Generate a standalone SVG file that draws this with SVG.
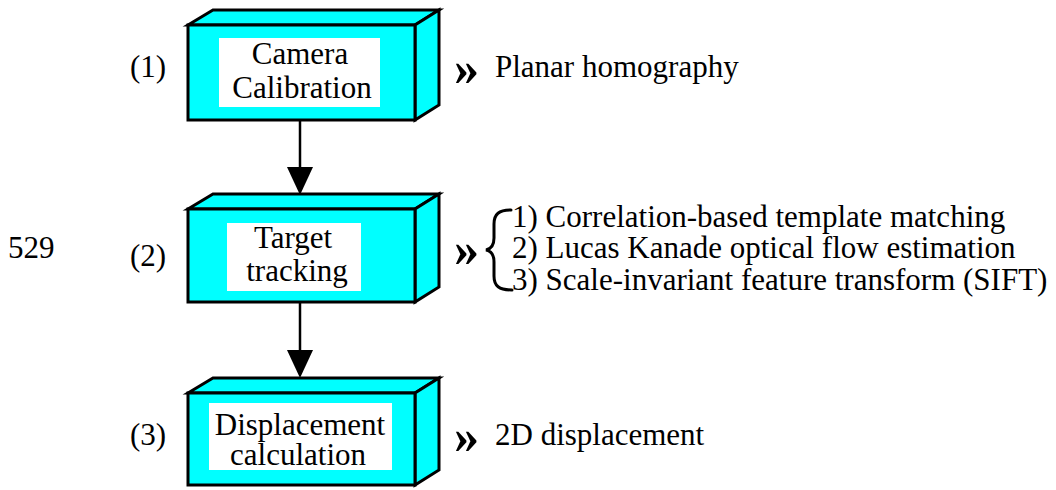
<svg xmlns="http://www.w3.org/2000/svg" width="1056" height="490" viewBox="0 0 1056 490">
  <style>
    .face { fill: #00ffff; stroke: #000; stroke-width: 3; stroke-linejoin: miter; }
    .label-bg { fill: #fff; }
    .t { font-size: 31px; fill: #000; }
    .mid { text-anchor: middle; }
    .chev { font-size: 50px; font-weight: bold; fill: #000; }
    .edge { stroke: #000; stroke-width: 2.5; fill: none; }
    .head { fill: #000; }
  </style>

  <g font-family="Liberation Serif, Times New Roman, serif">
  <!-- page number -->
  <text class="t" x="8" y="258">529</text>

  <!-- step 1 -->
  <g id="node-calibration">
    <polygon class="face" points="188,25 213,10 439,10 415,25"/>
    <polygon class="face" points="415,25 439,10 439,105 415,120"/>
    <rect class="face" x="188" y="25" width="227" height="95"/>
    <rect class="label-bg" x="219" y="38" width="161" height="69"/>
    <text class="t mid" x="300" y="64">Camera</text>
    <text class="t mid" x="302" y="98">Calibration</text>
  </g>

  <!-- step 2 -->
  <g id="node-tracking">
    <polygon class="face" points="188,209 213,194 439,194 415,209"/>
    <polygon class="face" points="415,209 439,194 439,287 415,302"/>
    <rect class="face" x="188" y="209" width="227" height="93"/>
    <rect class="label-bg" x="227" y="223" width="134" height="68"/>
    <text class="t mid" x="293" y="248">Target</text>
    <text class="t mid" x="297" y="281">tracking</text>
  </g>

  <!-- step 3 -->
  <g id="node-displacement">
    <polygon class="face" points="188,393 213,378 439,378 415,393"/>
    <polygon class="face" points="415,393 439,378 439,470 415,485"/>
    <rect class="face" x="188" y="393" width="227" height="92"/>
    <rect class="label-bg" x="209" y="403" width="183" height="67"/>
    <text class="t mid" x="300" y="435" font-size="30">Displacement</text>
    <text class="t mid" x="298" y="465" font-size="30">calculation</text>
  </g>

  <!-- connectors between steps -->
  <g id="connectors">
    <line class="edge" x1="300" y1="120" x2="300" y2="170"/>
    <polygon class="head" points="287,167 313,167 300,195"/>
    <line class="edge" x1="300" y1="302" x2="300" y2="352"/>
    <polygon class="head" points="287,350 313,350 300,378"/>
  </g>

  <!-- step numbers -->
  <g id="step-numbers">
    <text class="t" x="130" y="77">(1)</text>
    <text class="t" x="130" y="266">(2)</text>
    <text class="t" x="130" y="445">(3)</text>
  </g>

  <!-- outcomes of each step -->
  <g id="outcome-1">
    <text class="chev" x="454" y="85">»</text>
    <text class="t" x="495" y="77">Planar homography</text>
  </g>

  <g id="outcome-2">
    <text class="chev" x="454" y="266">»</text>
    <path d="M511,210 C499,210 494,214 494,224 L494,238 C494,246 491,249 486,250 C491,251 494,254 494,262 L494,276 C494,286 499,290 512,290" fill="none" stroke="#000" stroke-width="3" stroke-linecap="round"/>
    <text class="t" x="512" y="227">1) Correlation-based template matching</text>
    <text class="t" x="512" y="258">2) Lucas Kanade optical flow estimation</text>
    <text class="t" x="512" y="290">3) Scale-invariant feature transform (SIFT)</text>
  </g>

  <g id="outcome-3">
    <text class="chev" x="454" y="453">»</text>
    <text class="t" x="495" y="445">2D displacement</text>
  </g>
  </g>
</svg>
